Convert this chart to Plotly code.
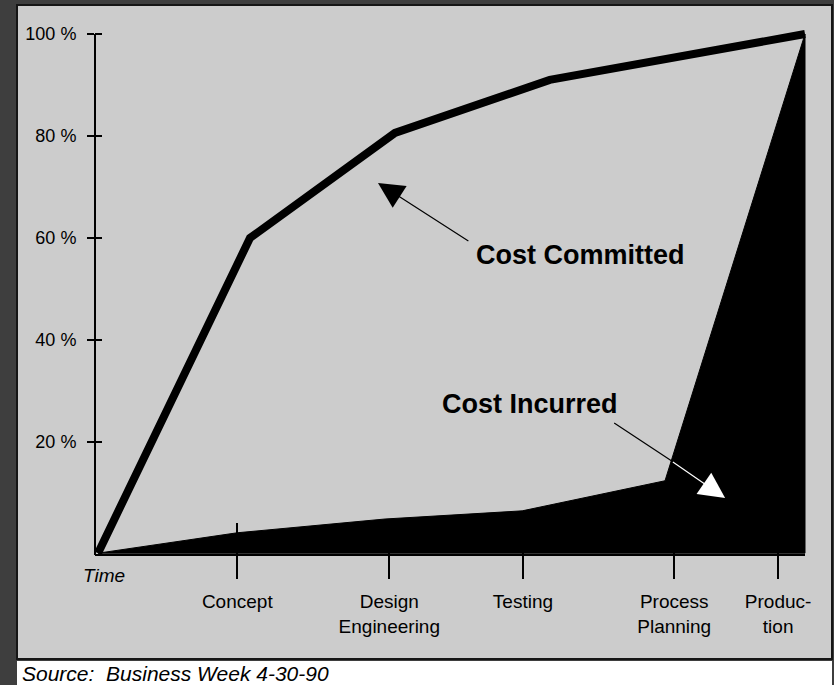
import plotly.graph_objects as go

# ---------------- data ----------------
stage_labels = ["Concept", "Design<br>Engineering", "Testing", "Process<br>Planning", "Produc-<br>tion"]
stage_pos = [19.7, 41.2, 60.1, 81.5, 96.2]

y_tick_vals = [20, 40, 60, 80, 100]
y_tick_text = ["20 %", "40 %", "60 %", "80 %", "100 %"]

committed_x = [0, 21.5, 42.0, 63.9, 100]
committed_y = [-1.8, 60.0, 80.6, 91.0, 100]

incurred_x = [0, 19.7, 40.6, 60.0, 80.2, 100]
incurred_y = [-1.8, 2.2, 4.9, 6.5, 12.4, 100]

# ---------------- layout constants ----------------
W, H = 834, 685
ML, MR, MT, MB = 95, 22, 20, 130
PW, PH = W - ML - MR, H - MT - MB
X_RANGE = [-0.424, 100.99]
Y_RANGE = [-2.157, 102.745]
FONT = "Liberation Sans, Arial, sans-serif"


def px(xp):
    return (xp - ML) / PW


def py(yp):
    return (H - MB - yp) / PH


fig = go.Figure()

# cost incurred (filled area down to the baseline)
base = incurred_y[0]
fig.add_trace(go.Scatter(
    x=incurred_x + [incurred_x[-1], incurred_x[0]],
    y=incurred_y + [base, base],
    mode="lines", fill="toself", fillcolor="black",
    line=dict(color="black", width=1),
    hoverinfo="skip", showlegend=False,
))

# cost committed (thick line)
fig.add_trace(go.Scatter(
    x=committed_x, y=committed_y, mode="lines",
    line=dict(color="black", width=8),
    hoverinfo="skip", showlegend=False,
))

# dummy trace for the overlay axes (inside tick halves)
fig.add_trace(go.Scatter(x=[None], y=[None], xaxis="x2", yaxis="y2",
                         showlegend=False, hoverinfo="skip"))

shapes = [
    # light gray panel
    dict(type="rect", xref="paper", yref="paper", layer="below",
         x0=px(17), x1=px(832), y0=py(659), y1=py(5),
         fillcolor="#cccccc", line=dict(color="#151515", width=2)),
    # white source strip
    dict(type="rect", xref="paper", yref="paper", layer="below",
         x0=px(17), x1=px(832), y0=py(685), y1=py(661),
         fillcolor="white", line=dict(width=0)),
    # y axis line
    dict(type="line", xref="paper", yref="y", x0=0, x1=0,
         y0=Y_RANGE[0], y1=100, line=dict(color="black", width=2)),
    # x axis line
    dict(type="line", xref="x", yref="paper", x0=X_RANGE[0], x1=100,
         y0=0, y1=0, line=dict(color="black", width=2)),
]

annotations = [
    dict(x=68.2, y=56.7, xref="x", yref="y", text="<b>Cost Committed</b>",
         showarrow=False, font=dict(family=FONT, size=27, color="black")),
    dict(x=61.1, y=27.5, xref="x", yref="y", text="<b>Cost Incurred</b>",
         showarrow=False, font=dict(family=FONT, size=27, color="black")),
    dict(x=0.9, y=py(575), xref="x", yref="paper", text="<i>Time</i>",
         showarrow=False, yanchor="middle",
         font=dict(family=FONT, size=19, color="black")),
    dict(x=px(20), y=py(673), xref="paper", yref="paper", xanchor="left",
         yanchor="middle", text="<i>Source:  Business Week 4-30-90</i>",
         showarrow=False, font=dict(family=FONT, size=21, color="black")),
    # committed arrow
    dict(x=39.6, y=70.8, ax=52.6, ay=59.2, xref="x", yref="y",
         axref="x", ayref="y", text="", showarrow=True,
         arrowhead=2, arrowsize=4.3, arrowwidth=1.2, arrowcolor="black"),
    # incurred arrow: black part over gray
    dict(x=81.1, y=16.3, ax=72.8, ay=23.9, xref="x", yref="y",
         axref="x", ayref="y", text="", showarrow=True,
         arrowhead=0, arrowwidth=1.2, arrowcolor="black"),
    # incurred arrow: white part over black
    dict(x=88.7, y=9.0, ax=81.1, ay=16.3, xref="x", yref="y",
         axref="x", ayref="y", text="", showarrow=True,
         arrowhead=2, arrowsize=4.3, arrowwidth=1.2, arrowcolor="white"),
]

common_axis = dict(showgrid=False, zeroline=False, showline=False,
                   fixedrange=True, tickcolor="black", tickwidth=2)

fig.update_layout(
    width=W, height=H, autosize=False,
    margin=dict(l=ML, r=MR, t=MT, b=MB, pad=0),
    paper_bgcolor="#3e3e3e", plot_bgcolor="rgba(0,0,0,0)",
    font=dict(family=FONT, color="black"),
    showlegend=False,
    shapes=shapes, annotations=annotations,
    xaxis=dict(range=X_RANGE, tickmode="array", tickvals=stage_pos,
               ticktext=stage_labels, ticks="outside", ticklen=23,
               tickfont=dict(family=FONT, size=19, color="black"),
               ticklabelstandoff=6, **common_axis),
    xaxis2=dict(range=X_RANGE, overlaying="x", side="bottom",
                tickmode="array", tickvals=stage_pos, ticks="inside",
                ticklen=32, showticklabels=False, **common_axis),
    yaxis=dict(range=Y_RANGE, tickmode="array", tickvals=y_tick_vals,
               ticktext=y_tick_text, ticks="outside", ticklen=7,
               tickfont=dict(family=FONT, size=18, color="black"),
               ticklabelstandoff=7, **common_axis),
    yaxis2=dict(range=Y_RANGE, overlaying="y", side="left",
                tickmode="array", tickvals=y_tick_vals, ticks="inside",
                ticklen=7, showticklabels=False, **common_axis),
)

fig.write_html(
    "out.html",
    config={"displayModeBar": False},
    post_script="document.body.style.margin='0';document.body.style.overflow='hidden';",
)
